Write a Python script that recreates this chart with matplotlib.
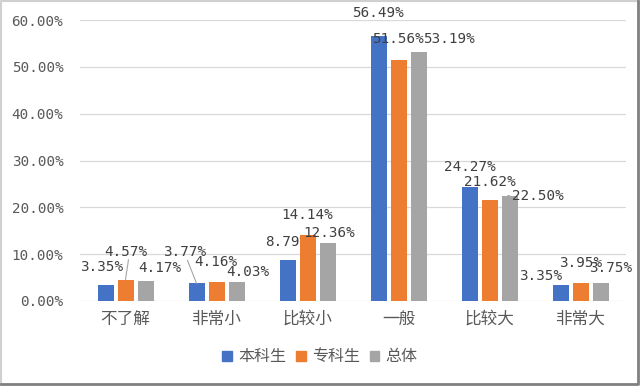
import matplotlib
matplotlib.use('Agg')
import matplotlib.pyplot as plt
import numpy as np
from matplotlib.lines import Line2D

plt.rcParams['font.family'] = ['Noto Sans CJK SC', 'DejaVu Sans']

categories = ['不了解', '非常小', '比较小', '一般', '比较大', '非常大']
series = ['本科生', '专科生', '总体']
undergrad = [3.35, 3.77, 8.79, 56.49, 24.27, 3.35]
junior = [4.57, 4.16, 14.14, 51.56, 21.62, 3.95]
overall = [4.17, 4.03, 12.36, 53.19, 22.50, 3.75]
colors = ['#4472C4', '#ED7D31', '#A5A5A5']

# label offsets (pixels) from bar top, hand-placed like the original
label_offsets = [
    [(-4, 18), (0, 28), (14, 13)],
    [(-12, 31), (-1, 20), (11, 10)],
    [(-1, 18), (0, 20), (2, 10)],
    [(-1, 23), (-1, 21), (30, 13)],
    [(0, 20), (0, 18), (28, 0)],
    [(-20, 9), (0, 20), (10, 15)],
]
leaders = {(0, 1), (1, 0), (4, 2)}

fig = plt.figure(figsize=(6.4, 3.86), dpi=100)
ax = fig.add_axes([80 / 640, 85 / 386, 546 / 640, 281 / 386])

x = np.arange(len(categories))
step = 20 / 91
width = 16 / 91
text_c = '#595959'
mono = 'DejaVu Sans Mono'
for j, vals in enumerate([undergrad, junior, overall]):
    xs = x + (j - 1) * step
    ax.bar(xs, vals, width, color=colors[j], zorder=3, label=series[j])
    for i, v in enumerate(vals):
        dx, dy = label_offsets[i][j]
        ax.annotate(f'{v:.2f}%', (xs[i], v), xytext=(dx, dy),
                    textcoords='offset pixels', ha='center', va='center',
                    fontsize=10.3, family=mono, color='#404040')
        if (i, j) in leaders:
            if dy == 0:
                ax.annotate('', (xs[i] - 0.02, v), xytext=(dx - 26, 0),
                            textcoords='offset pixels',
                            arrowprops=dict(arrowstyle='-', color='#A6A6A6', lw=0.8))
            else:
                ax.annotate('', (xs[i], v), xytext=(dx + 3, dy - 8),
                            textcoords='offset pixels',
                            arrowprops=dict(arrowstyle='-', color='#A6A6A6', lw=0.8,
                                            shrinkA=0, shrinkB=0))

ax.set_xlim(-0.5, 5.5)
ax.set_ylim(0, 60)
ax.set_yticks(np.arange(0, 61, 10))
ax.set_yticklabels([f'{t:.2f}%' for t in range(0, 61, 10)],
                   family=mono, fontsize=10.3, color=text_c)
ax.set_xticks(x)
ax.set_xticklabels(categories, fontsize=12, color=text_c)
ax.tick_params(axis='both', length=0)
ax.tick_params(axis='y', pad=12)
ax.tick_params(axis='x', pad=7)
ax.yaxis.grid(True, color='#D9D9D9', lw=0.9, zorder=0)
ax.set_axisbelow(True)
for s in ax.spines.values():
    s.set_visible(False)

handles = [plt.Rectangle((0, 0), 1, 1, color=c) for c in colors]
fig.legend(handles, series, loc='center', bbox_to_anchor=(0.5, 29 / 386), ncol=3,
           frameon=False, fontsize=11.5, handlelength=0.6, handleheight=0.6,
           handletextpad=0.4, columnspacing=0.6, labelcolor=text_c)

# chart border
fig.add_artist(Line2D([0.002, 0.002, 0.997], [0.004, 0.997, 0.997],
                      transform=fig.transFigure, color='#D0D0D0', lw=1.5))
fig.add_artist(Line2D([0.002, 0.997, 0.997], [0.004, 0.004, 0.997],
                      transform=fig.transFigure, color='#808080', lw=2))

fig.savefig('out.png', dpi=100, facecolor='white')
